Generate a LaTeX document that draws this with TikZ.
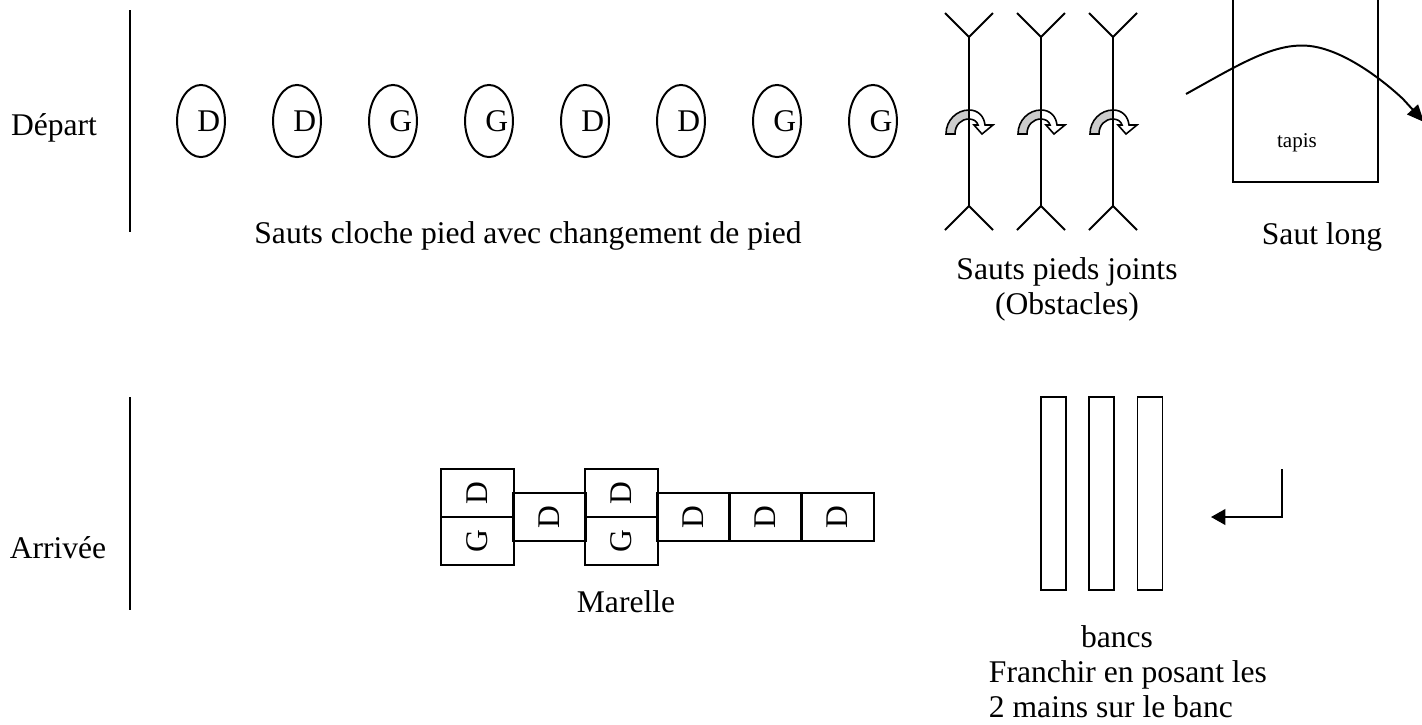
\documentclass[tikz,border=0pt]{standalone}
\usepackage{fontspec}
\setmainfont{Liberation Serif}
\usepackage{graphicx}
\usetikzlibrary{shapes.geometric,arrows.meta}
\definecolor{GrisFleche}{RGB}{204, 204, 204}
\definecolor{Noir}{RGB}{0, 0, 0}
\newcommand{\Obstacle}[2]{%
  \begin{scope}[shift={(#2,0)}]
    \filldraw[fill=GrisFleche,line width=0.6pt] (-23,134) .. controls (-23,120) and (-12,110) .. (0,110)
      -- (0,119) .. controls (-8,119) and (-14,125) .. (-14,134) -- cycle;
    \filldraw[fill=white,line width=0.6pt] (0,110) .. controls (9,110) and (15,116) .. (16,125)
      -- (24,125) -- (13,134) -- (5,125) -- (9,125) .. controls (8,121) and (4,119) .. (0,119) -- cycle;
    \coordinate (#1h) at (0,37);
    \coordinate (#1b) at (0,206);
    \draw (-24,13) -- (#1h) -- (24,13);
    \draw (#1h) -- (#1b);
    \draw (-24,230) -- (#1b) -- (24,230);
  \end{scope}}

\begin{document}
\begin{tikzpicture}[x=0.38pt,y=-0.38pt,line width=0.75pt,color=Noir,
    texte/.style={font=\fontsize{12pt}{13.3pt}\selectfont,inner sep=0pt},
    pas/.style={draw,ellipse,minimum width=18.2pt,minimum height=27.4pt,inner sep=0pt},
    case/.style={draw,rectangle,texte,minimum width=27.4pt,minimum height=18.2pt},
    banc/.style={draw,rectangle,minimum width=9.5pt,minimum height=73.3pt,inner sep=0pt}]
            \useasboundingbox (0,0) rectangle (1422,724);
            %Depart
            \node[texte] (depart) at (54,128) {Départ};
            \coordinate (dh) at (130,10);
            \coordinate (db) at (130,232);
            \draw (dh) -- (db);
            %Cloche pied
            \node[pas,label={[texte,xshift=3pt]center:D}] (p1) at (201,121) {};
            \node[pas,label={[texte,xshift=3pt]center:D}] (p2) at (297,121) {};
            \node[pas,label={[texte,xshift=3pt]center:G}] (p3) at (393,121) {};
            \node[pas,label={[texte,xshift=3pt]center:G}] (p4) at (489,121) {};
            \node[pas,label={[texte,xshift=3pt]center:D}] (p5) at (585,121) {};
            \node[pas,label={[texte,xshift=3pt]center:D}] (p6) at (681,121) {};
            \node[pas,label={[texte,xshift=3pt]center:G}] (p7) at (777,121) {};
            \node[pas,label={[texte,xshift=3pt]center:G}] (p8) at (873,121) {};
            \node[texte] (cloche) at (528,236) {Sauts cloche pied avec changement de pied};
            %Obstacles
            \Obstacle{o1}{969}
            \Obstacle{o2}{1041}
            \Obstacle{o3}{1113}
            \node[texte,align=center] (joints) at (1067,289) {Sauts pieds joints\\(Obstacles)};
            %Saut long
            \node[draw,rectangle,minimum width=55.1pt,minimum height=71.1pt,inner sep=0pt] (tapisbox) at (1305.5,88.5) {};
            \node[font=\fontsize{8pt}{9pt}\selectfont,inner sep=0pt] (tapis) at (1297,143) {tapis};
            \coordinate (elan) at (1186,94);
            \coordinate (reception) at (1424,122);
            \draw[-{Triangle[length=6.5pt,width=5.5pt]}] (elan) .. controls (1240,64) and (1275,42) .. (1310,46)
                .. controls (1345,50) and (1385,82) .. (1403,99) -- (reception);
            \node[texte] (long) at (1322,237) {Saut long};
            %Arrivee
            \node[texte] (arrivee) at (58,548) {Arrivée};
            \coordinate (ah) at (130,397);
            \coordinate (ab) at (130,610);
            \draw (ah) -- (ab);
            %Marelle
            \node[case] (m1h) at (477.5,493) {\rotatebox{90}{D}};
            \node[case] (m1b) at (477.5,541) {\rotatebox{90}{G}};
            \node[case] (m2) at (549.5,517) {\rotatebox{90}{D}};
            \node[case] (m3h) at (621.5,493) {\rotatebox{90}{D}};
            \node[case] (m3b) at (621.5,541) {\rotatebox{90}{G}};
            \node[case] (m4) at (693.5,517) {\rotatebox{90}{D}};
            \node[case] (m5) at (765.5,517) {\rotatebox{90}{D}};
            \node[case] (m6) at (837.5,517) {\rotatebox{90}{D}};
            \node[texte] (marelle) at (626,602) {Marelle};
            %Bancs
            \node[banc] (b1) at (1053.5,493.5) {};
            \node[banc] (b2) at (1101.5,493.5) {};
            \node[banc] (b3) at (1150,493.5) {};
            \coordinate (fh) at (1282,469);
            \coordinate (fc) at (1282,517);
            \coordinate (fb) at (1211,517);
            \draw[miter limit=10,-{Triangle[length=5.5pt,width=6pt]}] (fh) -- (fc) -- (fb);
            \node[texte] (bancs) at (1117,637) {bancs};
            \node[texte,align=left,anchor=west] (franchir) at (988,689) {Franchir en posant les\\2 mains sur le banc};
        \end{tikzpicture}
\end{document}
